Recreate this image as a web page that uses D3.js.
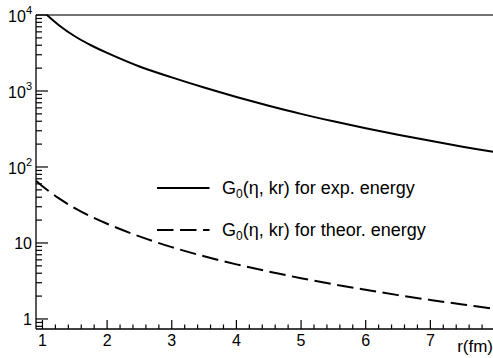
<!DOCTYPE html>
<html>
<head>
<meta charset="utf-8">
<script src="https://cdn.jsdelivr.net/npm/d3@7"></script>
<style>
  body { margin: 0; background: #fff; }
  svg { display: block; font-family: "Liberation Sans", Arial, sans-serif; }
</style>
</head>
<body>
<svg id="chart" width="493" height="358"></svg>
<script>
const WIDTH = 493;
const HEIGHT = 358;

// r (fm) sample points
const rValues = [0.9, 1.0, 1.25, 1.5, 1.75, 2.0, 2.5, 3.0, 3.5, 4.0, 4.5, 5.0, 5.5, 6.0, 6.5, 7.0, 7.5, 8.0];
// G0(eta, kr) for exp. energy
const expEnergy = [13800, 11330, 7400, 5250, 4000, 3170, 2100, 1510, 1110, 835, 640, 500, 400, 324, 266, 221, 185, 157];
// G0(eta, kr) for theor. energy
const theorEnergy = [66, 55.8, 38.9, 28.8, 22.3, 17.9, 12.2, 8.81, 6.68, 5.23, 4.21, 3.44, 2.86, 2.42, 2.06, 1.78, 1.55, 1.36];

const xTicks = [1, 2, 3, 4, 5, 6, 7];
const yTicks = [1, 10, 100, 1000, 10000];
const yTickBase = ['1', '10', '10', '10', '10'];
const yTickExp = ['', '', '2', '3', '4'];

const legendLabels = ['for exp. energy', 'for theor. energy'];

const PLOT_LEFT = 36;
const PLOT_RIGHT = 495;
const PLOT_TOP = 15;
const PLOT_BOTTOM = 329;

const x = d3.scaleLinear().domain([0.9, 8]).range([PLOT_LEFT, PLOT_RIGHT]);
const y = d3.scaleLog().domain([Math.pow(10, -0.132), 10000]).range([PLOT_BOTTOM, PLOT_TOP]);

const svg = d3.select('#chart');

svg.append('defs')
  .append('clipPath')
  .attr('id', 'plot-clip')
  .append('rect')
  .attr('x', PLOT_LEFT)
  .attr('y', PLOT_TOP)
  .attr('width', PLOT_RIGHT - PLOT_LEFT)
  .attr('height', PLOT_BOTTOM - PLOT_TOP);

// top frame line
svg.append('line')
  .attr('x1', PLOT_LEFT).attr('x2', WIDTH)
  .attr('y1', PLOT_TOP).attr('y2', PLOT_TOP)
  .style('stroke', '#444')
  .style('stroke-width', 1.3);

// x axis
svg.append('line')
  .attr('x1', PLOT_LEFT).attr('x2', WIDTH)
  .attr('y1', PLOT_BOTTOM).attr('y2', PLOT_BOTTOM)
  .style('stroke', '#000')
  .style('stroke-width', 1.3);

const xMinor = d3.range(1, 8.01, 0.2).filter((v) => Math.abs(v - Math.round(v)) > 0.01);
svg.append('g').selectAll('line')
  .data(xMinor)
  .enter().append('line')
  .attr('x1', (d) => x(d)).attr('x2', (d) => x(d))
  .attr('y1', PLOT_BOTTOM).attr('y2', PLOT_BOTTOM - 4.5)
  .style('stroke', '#000')
  .style('stroke-width', 1.2);

svg.append('g').selectAll('line')
  .data(xTicks)
  .enter().append('line')
  .attr('x1', (d) => x(d)).attr('x2', (d) => x(d))
  .attr('y1', PLOT_BOTTOM).attr('y2', PLOT_BOTTOM - 9)
  .style('stroke', '#000')
  .style('stroke-width', 1.2);

svg.append('g').selectAll('text')
  .data(xTicks)
  .enter().append('text')
  .attr('x', (d) => x(d))
  .attr('y', 346)
  .attr('text-anchor', 'middle')
  .style('font-size', '16px')
  .text((d) => d);

svg.append('text')
  .attr('x', 493)
  .attr('y', 352)
  .attr('text-anchor', 'end')
  .style('font-size', '17px')
  .text('r(fm)');

// y axis
svg.append('line')
  .attr('x1', PLOT_LEFT).attr('x2', PLOT_LEFT)
  .attr('y1', PLOT_TOP).attr('y2', PLOT_BOTTOM)
  .style('stroke', '#000')
  .style('stroke-width', 1.3);

const yMinor = y.ticks().filter((v) => yTicks.indexOf(v) < 0 && v >= y.domain()[0]);
svg.append('g').selectAll('line')
  .data(yMinor)
  .enter().append('line')
  .attr('x1', PLOT_LEFT).attr('x2', PLOT_LEFT + 6)
  .attr('y1', (d) => y(d)).attr('y2', (d) => y(d))
  .style('stroke', '#000')
  .style('stroke-width', 1.2);

svg.append('g').selectAll('line')
  .data(yTicks)
  .enter().append('line')
  .attr('x1', PLOT_LEFT).attr('x2', PLOT_LEFT + 12)
  .attr('y1', (d) => y(d)).attr('y2', (d) => y(d))
  .style('stroke', '#000')
  .style('stroke-width', 1.2);

const yLabels = svg.append('g').selectAll('text')
  .data(yTicks.map((v, i) => ({ v, base: yTickBase[i], exp: yTickExp[i] })))
  .enter().append('text')
  .attr('x', 32)
  .attr('y', (d) => y(d.v) + (d.exp ? 7 : 6))
  .attr('text-anchor', 'end')
  .style('font-size', '16px');

yLabels.append('tspan')
  .text((d) => d.base);
yLabels.filter((d) => d.exp !== '')
  .append('tspan')
  .attr('dy', -8)
  .style('font-size', '11px')
  .text((d) => d.exp);

// curves
const line = (values) => d3.line()
  .x((d) => x(d))
  .y((d, i) => y(values[i]))
  .curve(d3.curveCatmullRom.alpha(0.5))(rValues);

const curves = svg.append('g').attr('clip-path', 'url(#plot-clip)');

curves.append('path')
  .attr('d', line(expEnergy))
  .style('fill', 'none')
  .style('stroke', '#000')
  .style('stroke-width', 2);

curves.append('path')
  .attr('d', line(theorEnergy))
  .style('fill', 'none')
  .style('stroke', '#000')
  .style('stroke-width', 2)
  .style('stroke-dasharray', '16.5,6.5');

// legend
const legendY = [188, 230];
const legend = svg.append('g').selectAll('g')
  .data(legendLabels)
  .enter().append('g')
  .attr('transform', (d, i) => `translate(0,${legendY[i]})`);

legend.append('line')
  .attr('x1', 157).attr('x2', 209.5)
  .attr('y1', 0).attr('y2', 0)
  .style('stroke', '#000')
  .style('stroke-width', 2)
  .style('stroke-dasharray', (d, i) => (i === 1 ? '16.5,6.5' : null));

const legendText = legend.append('text')
  .attr('x', 222)
  .attr('y', 6)
  .style('font-size', '18px');

legendText.append('tspan').text('G');
legendText.append('tspan')
  .attr('dy', 4)
  .style('font-size', '12px')
  .text('0');
legendText.append('tspan')
  .attr('dy', -4)
  .text((d) => `(η, kr) ${d}`);
</script>
</body>
</html>
